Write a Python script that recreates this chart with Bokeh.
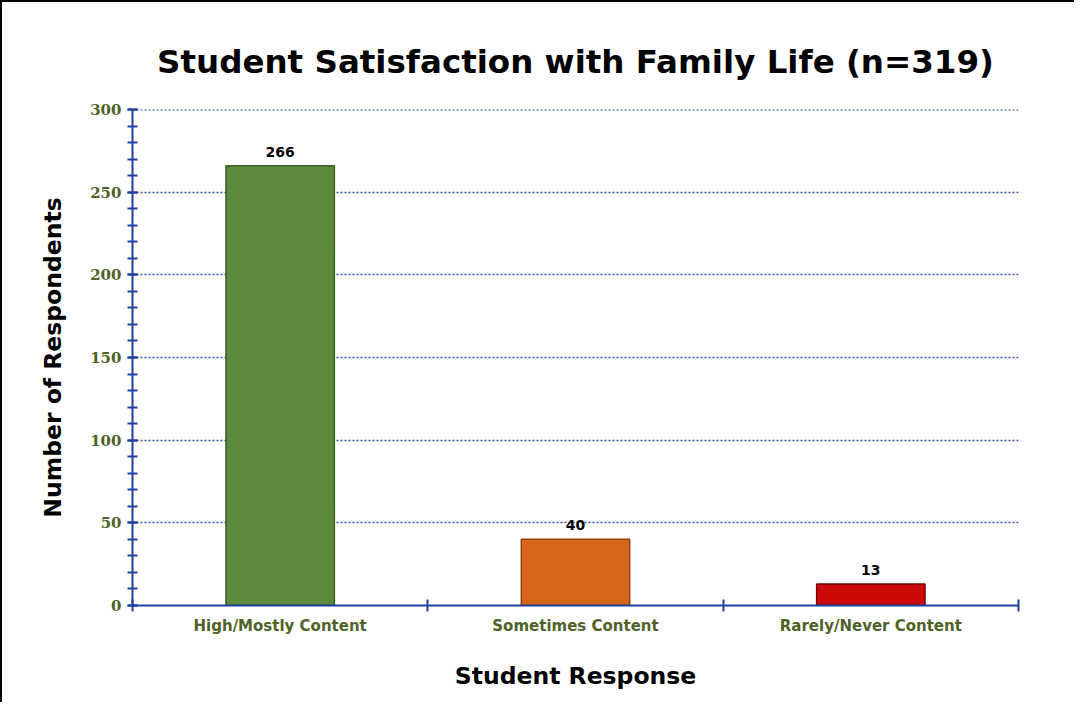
from bokeh.plotting import figure
from bokeh.models import ColumnDataSource, FixedTicker, LabelSet, Range1d, Span
from bokeh.core.properties import value
from bokeh.embed import file_html
from bokeh.resources import INLINE

categories = ["High/Mostly Content", "Sometimes Content", "Rarely/Never Content"]
counts = [266, 40, 13]
colors = ["#5b8a3a", "#d6661a", "#cc0808"]
edges = ["#3b5e25", "#8f4210", "#7a0000"]
y_ticks = [0, 50, 100, 150, 200, 250, 300]
grid_ticks = [50, 100, 150, 200, 250]
y_top = 300

xs = [i + 0.5 for i in range(len(categories))]
src = ColumnDataSource(dict(x=xs, top=counts, color=colors, edge=edges,
                            label=[str(c) for c in counts]))

p = figure(width=1074, height=702, output_backend="svg", toolbar_location=None,
           x_range=Range1d(0, 3), y_range=Range1d(0, 300),
           min_border_left=130, min_border_right=58, min_border_top=107, min_border_bottom=99)
p.styles = {"border-left": "2px solid #000000", "border-top": "2px solid #000000",
            "box-sizing": "border-box"}

p.vbar(x="x", top="top", width=0.367, bottom=0, source=src,
       fill_color="color", line_color="edge", line_width=1.5)

labels = LabelSet(x="x", y="top", text="label", source=src, y_offset=9,
                  text_align="center", text_baseline="bottom",
                  text_font=value("DejaVu Sans"), text_font_style="bold",
                  text_font_size="14px", text_color="#000000")
p.add_layout(labels)

p.title.text = "Student Satisfaction with Family Life (n=319)"
p.title.text_font = "DejaVu Sans"
p.title.text_font_style = "bold"
p.title.text_font_size = "32.5px"
p.title.text_color = "#000000"
p.title.align = "center"
p.title.offset = -24
p.title.standoff = 58

axis_blue = "#1f3f9f"
green = "#4f6228"

# x axis
p.xaxis.ticker = FixedTicker(ticks=xs, minor_ticks=[0, 1, 2, 3])
p.xaxis.major_label_overrides = {x: c for x, c in zip(xs, categories)}
p.xaxis.major_tick_in = 0
p.xaxis.major_tick_out = 0
p.xaxis.minor_tick_in = 6
p.xaxis.minor_tick_out = 6
p.xaxis.axis_line_color = axis_blue
p.xaxis.axis_line_width = 2
p.xaxis.minor_tick_line_color = axis_blue
p.xaxis.minor_tick_line_width = 2
p.xaxis.major_label_text_font = "DejaVu Sans"
p.xaxis.major_label_text_font_style = "bold"
p.xaxis.major_label_text_font_size = "15px"
p.xaxis.major_label_text_color = green
p.xaxis.major_label_standoff = 5
p.xaxis.axis_label = "Student Response"
p.xaxis.axis_label_text_font = "DejaVu Sans"
p.xaxis.axis_label_text_font_style = "bold"
p.xaxis.axis_label_text_font_size = "23.5px"
p.xaxis.axis_label_text_color = "#000000"
p.xaxis.axis_label_standoff = 24

# y axis
p.yaxis.ticker = FixedTicker(ticks=y_ticks, minor_ticks=list(range(0, 301, 10)))
p.yaxis.major_tick_in = 5
p.yaxis.major_tick_out = 5
p.yaxis.minor_tick_in = 5
p.yaxis.minor_tick_out = 5
p.yaxis.axis_line_color = axis_blue
p.yaxis.axis_line_width = 2
p.yaxis.major_tick_line_color = axis_blue
p.yaxis.major_tick_line_width = 2
p.yaxis.minor_tick_line_color = axis_blue
p.yaxis.minor_tick_line_width = 2
p.yaxis.major_label_text_font = "DejaVu Serif"
p.yaxis.major_label_text_font_style = "bold"
p.yaxis.major_label_text_font_size = "15px"
p.yaxis.major_label_text_color = green
p.yaxis.major_label_standoff = 6
p.yaxis.axis_label = "Number of Respondents"
p.yaxis.axis_label_text_font = "DejaVu Sans"
p.yaxis.axis_label_text_font_style = "bold"
p.yaxis.axis_label_text_font_size = "23.5px"
p.yaxis.axis_label_text_color = "#000000"
p.yaxis.axis_label_standoff = 20

p.xgrid.grid_line_color = None
p.ygrid.ticker = FixedTicker(ticks=grid_ticks)
p.ygrid.grid_line_color = "#2f4fa8"
p.ygrid.grid_line_dash = "2 2"
p.ygrid.grid_line_width = 1.5
p.add_layout(Span(location=y_top, dimension="width", line_color="#2f4fa8",
                  line_dash="2 2", line_width=2))
p.outline_line_color = None

open("out.html", "w").write(file_html(p, INLINE))
